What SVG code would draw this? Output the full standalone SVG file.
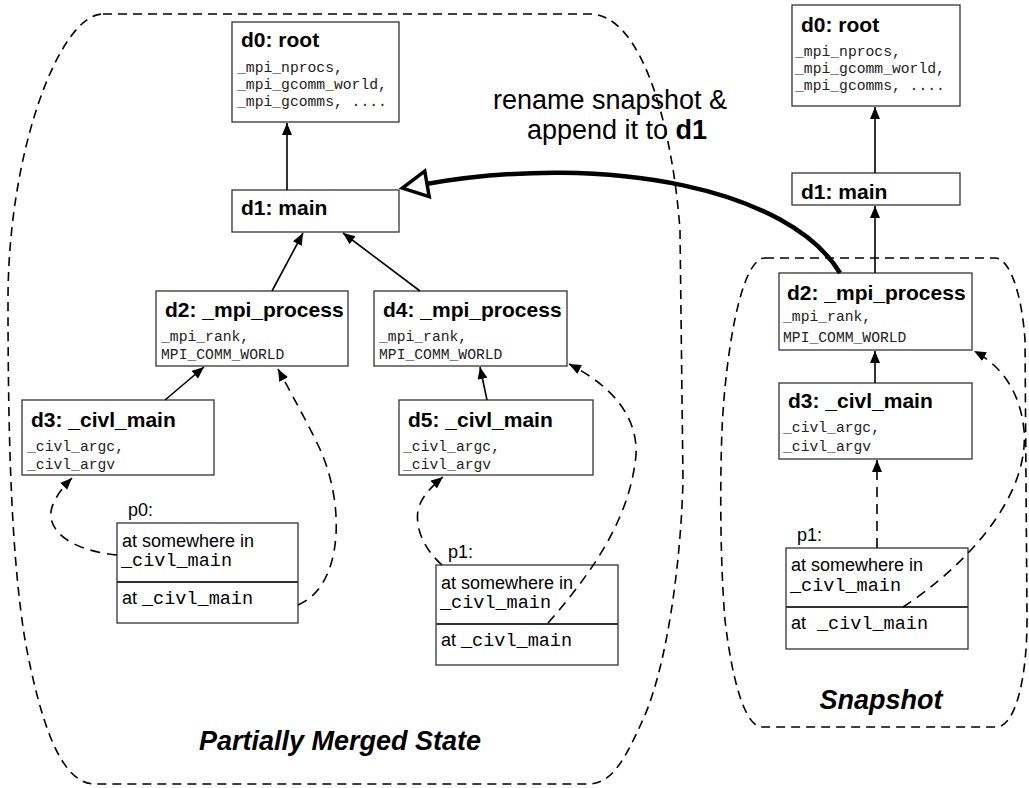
<svg xmlns="http://www.w3.org/2000/svg" width="1029" height="788" viewBox="0 0 1029 788">
<style>
.box{fill:#fff;stroke:#333;stroke-width:1.3}
.div{stroke:#333;stroke-width:2}
.title{font-family:"Liberation Sans",Arial,sans-serif;font-weight:bold;font-size:21px;fill:#000}
.mono{font-family:"Liberation Mono","Courier New",monospace;font-size:14.7px;fill:#222}
.pm{font-family:"Liberation Mono","Courier New",monospace;font-size:18.5px;fill:#000}
.sans{font-family:"Liberation Sans",Arial,sans-serif;font-size:18px;fill:#000}
.big{font-family:"Liberation Sans",Arial,sans-serif;font-size:27px;fill:#000}
.lbl{font-family:"Liberation Sans",Arial,sans-serif;font-size:27px;font-weight:bold;font-style:italic;fill:#000}
.bound{fill:none;stroke:#000;stroke-width:1.6;stroke-dasharray:9 6}
.solid{fill:none;stroke:#000;stroke-width:1.6}
.dash{fill:none;stroke:#000;stroke-width:1.6;stroke-dasharray:10 7}
.thick{fill:none;stroke:#000;stroke-width:4.5}
</style>
<defs>
<marker id="ah" markerUnits="userSpaceOnUse" markerWidth="14" markerHeight="12" refX="12" refY="5" orient="auto">
<path d="M0,0 L12,5 L0,10 Z" fill="#000"/>
</marker>
<marker id="open" markerUnits="userSpaceOnUse" markerWidth="34" markerHeight="34" refX="4" refY="16" orient="auto" overflow="visible">
<path d="M3,3 L28,16 L3,29 Z" fill="#fff" stroke="#000" stroke-width="3.5" stroke-linejoin="miter"/>
</marker>
</defs>

<g id="boundaries">
<path class="bound" d="M103,14 L590,14 C640,14 672,120 680,230 L683,480 C681,560 668,660 645,715 C625,760 612,784 588,784 L95,784 C60,784 40,720 25,640 C12,560 8,450 8,300 C8,150 60,14 103,14 Z"/>
<path class="bound" d="M765,258 L995,258 C1010,258 1022,295 1025,340 L1027,620 C1027,680 1015,726 997,727 L762,727 C745,727 732,680 725,620 C720,560 720,480 722,430 C725,360 740,258 765,258 Z"/>
</g>

<g id="left-d0">
<rect class="box" x="232" y="22" width="167" height="100"/>
<text class="title" x="241" y="47">d0: root</text>
<text class="mono" x="237" y="72">_mpi_nprocs,</text>
<text class="mono" x="237" y="89">_mpi_gcomm_world,</text>
<text class="mono" x="237" y="106">_mpi_gcomms, ....</text>
</g>
<g id="left-d1">
<rect class="box" x="232" y="190" width="167" height="42"/>
<text class="title" x="241" y="215">d1: main</text>
</g>
<g id="left-d2">
<rect class="box" x="156" y="291" width="192" height="75"/>
<text class="title" x="165" y="317">d2: _mpi_process</text>
<text class="mono" x="161" y="341">_mpi_rank,</text>
<text class="mono" x="161" y="359">MPI_COMM_WORLD</text>
</g>
<g id="left-d4">
<rect class="box" x="374" y="291" width="193" height="75"/>
<text class="title" x="383" y="317">d4: _mpi_process</text>
<text class="mono" x="379" y="341">_mpi_rank,</text>
<text class="mono" x="379" y="359">MPI_COMM_WORLD</text>
</g>
<g id="left-d3">
<rect class="box" x="22" y="400" width="192" height="75"/>
<text class="title" x="31" y="427">d3: _civl_main</text>
<text class="mono" x="27" y="451">_civl_argc,</text>
<text class="mono" x="27" y="469">_civl_argv</text>
</g>
<g id="left-d5">
<rect class="box" x="399" y="400" width="194" height="75"/>
<text class="title" x="408" y="427">d5: _civl_main</text>
<text class="mono" x="403" y="451">_civl_argc,</text>
<text class="mono" x="403" y="469">_civl_argv</text>
</g>
<g id="left-p0">
<text class="sans" x="128" y="516">p0:</text>
<rect class="box" x="117" y="523" width="181" height="100"/>
<line class="div" x1="117" y1="582" x2="298" y2="582"/>
<text class="sans" x="122" y="547">at somewhere in</text>
<text class="pm" x="121" y="566">_civl_main</text>
<text class="sans" x="122" y="604">at <tspan class="pm">_civl_main</tspan></text>
</g>
<g id="left-p1">
<text class="sans" x="448" y="558">p1:</text>
<rect class="box" x="436" y="565" width="182" height="100"/>
<line class="div" x1="436" y1="624" x2="618" y2="624"/>
<text class="sans" x="441" y="589">at somewhere in</text>
<text class="pm" x="440" y="608">_civl_main</text>
<text class="sans" x="441" y="646">at <tspan class="pm">_civl_main</tspan></text>
</g>

<g id="snap-d0">
<rect class="box" x="792" y="5" width="168" height="101"/>
<text class="title" x="801" y="32">d0: root</text>
<text class="mono" x="795" y="56">_mpi_nprocs,</text>
<text class="mono" x="795" y="73">_mpi_gcomm_world,</text>
<text class="mono" x="795" y="90">_mpi_gcomms, ....</text>
</g>
<g id="snap-d1">
<rect class="box" x="792" y="173" width="168" height="32"/>
<text class="title" x="801" y="199">d1: main</text>
</g>
<g id="snap-d2">
<rect class="box" x="779" y="273" width="193" height="77"/>
<text class="title" x="787" y="300">d2: _mpi_process</text>
<text class="mono" x="783" y="321">_mpi_rank,</text>
<text class="mono" x="783" y="342">MPI_COMM_WORLD</text>
</g>
<g id="snap-d3">
<rect class="box" x="779" y="383" width="193" height="76"/>
<text class="title" x="788" y="408">d3: _civl_main</text>
<text class="mono" x="783" y="432">_civl_argc,</text>
<text class="mono" x="783" y="451">_civl_argv</text>
</g>
<g id="snap-p1">
<text class="sans" x="797" y="541">p1:</text>
<rect class="box" x="786" y="548" width="182" height="101"/>
<line class="div" x1="786" y1="607" x2="968" y2="607"/>
<text class="sans" x="791" y="571">at somewhere in</text>
<text class="pm" x="790" y="591">_civl_main</text>
<text class="sans" x="791" y="629">at<tspan class="pm" x="817">_civl_main</tspan></text>
</g>

<g id="connectors">
<line class="solid" x1="287" y1="190" x2="287" y2="123" marker-end="url(#ah)"/>
<line class="solid" x1="272" y1="291" x2="303" y2="233" marker-end="url(#ah)"/>
<line class="solid" x1="420" y1="291" x2="343" y2="233" marker-end="url(#ah)"/>
<line class="solid" x1="165" y1="400" x2="204" y2="367" marker-end="url(#ah)"/>
<line class="solid" x1="487" y1="400" x2="480" y2="367" marker-end="url(#ah)"/>
<path class="dash" d="M117,555 C85,552 55,540 51,518 C49,505 60,490 72,478" marker-end="url(#ah)"/>
<path class="dash" d="M298,605 C345,585 345,500 318,445 C305,418 292,395 278,369" marker-end="url(#ah)"/>
<path class="dash" d="M442,565 C425,550 415,530 418,510 C421,497 432,486 443,477" marker-end="url(#ah)"/>
<path class="dash" d="M548,623 C590,575 630,520 636,455 C638,415 610,385 569,364" marker-end="url(#ah)"/>
<line class="solid" x1="875" y1="173" x2="875" y2="107" marker-end="url(#ah)"/>
<line class="solid" x1="875" y1="273" x2="875" y2="206" marker-end="url(#ah)"/>
<line class="solid" x1="875" y1="383" x2="875" y2="351" marker-end="url(#ah)"/>
<line class="dash" x1="877" y1="548" x2="877" y2="460" marker-end="url(#ah)"/>
<path class="dash" d="M903,607 C960,570 1030,500 1024,430 C1020,390 1000,365 974,351" marker-end="url(#ah)"/>
<path class="thick" d="M840,273 C790,190 610,152 426,184" marker-end="url(#open)"/>
</g>

<g id="labels">
<text class="big" x="610" y="109" text-anchor="middle">rename snapshot &amp;</text>
<text class="big" x="617" y="139" text-anchor="middle">append it to <tspan font-weight="bold">d1</tspan></text>
<text class="lbl" x="340" y="750" text-anchor="middle">Partially Merged State</text>
<text class="lbl" x="881" y="709" text-anchor="middle">Snapshot</text>
</g>
</svg>
